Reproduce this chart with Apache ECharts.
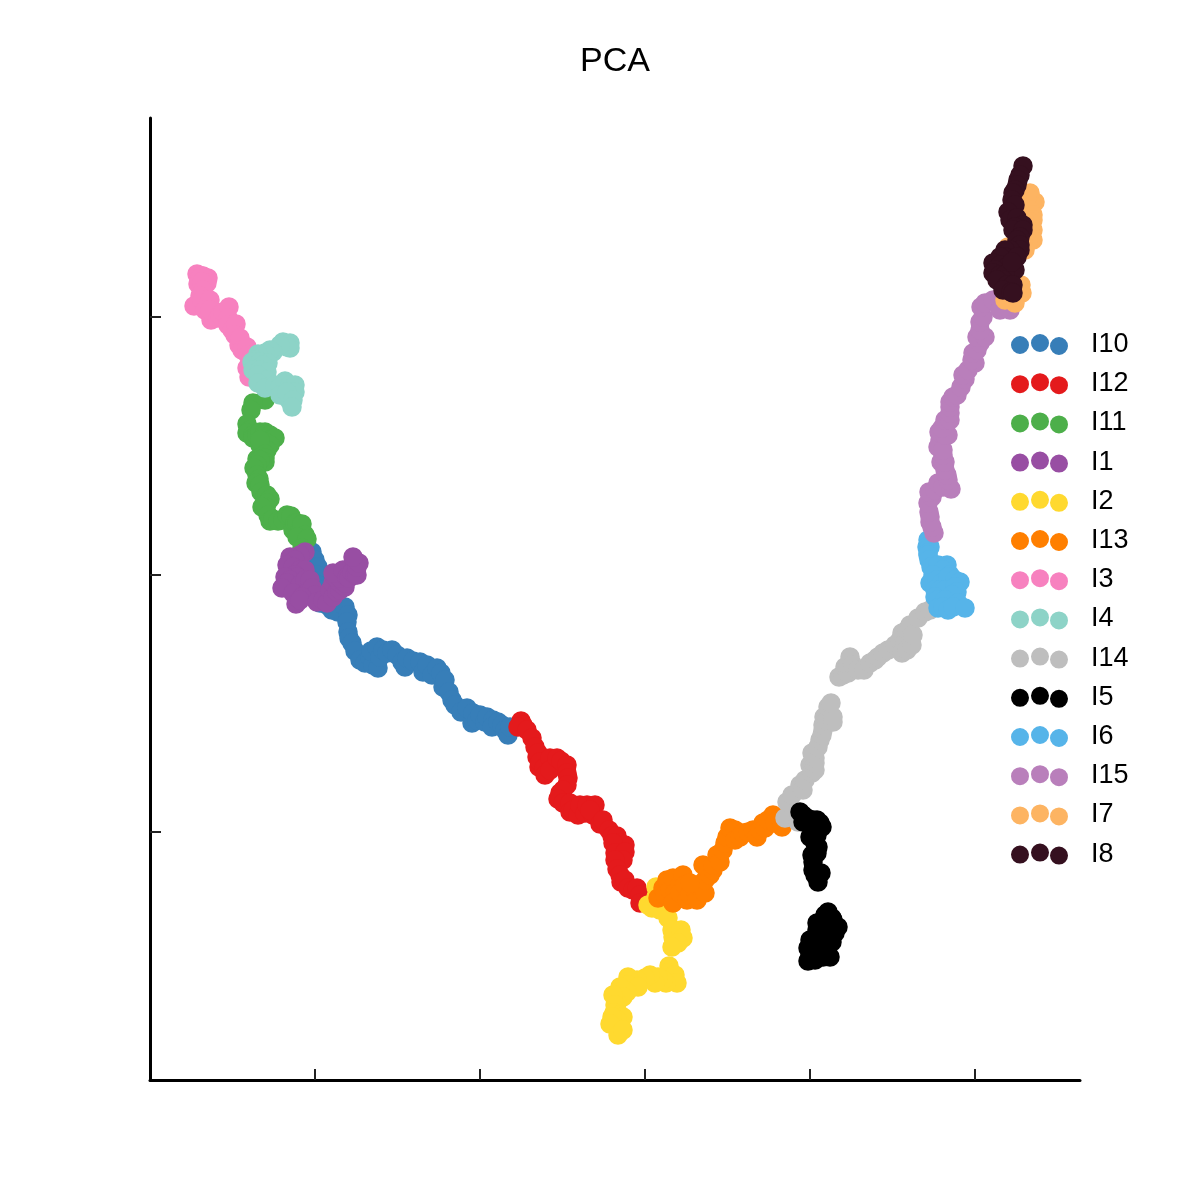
<!DOCTYPE html>
<html>
<head>
<meta charset="utf-8">
<style>html,body{margin:0;padding:0;background:#fff}#c{width:1200px;height:1200px}</style>
<script src="https://cdn.jsdelivr.net/npm/echarts@6/dist/echarts.min.js"></script>
</head>
<body>
<div id="c"></div>
<script>
const I10 = [[-333,23],[-330,15],[-327,8],[-328,0],[-327,-10],[-325,-15],[-325,-28],[-318,-30],[-313,-35],[-307,-37],[-300,-32],[-297,-40],[-298,-47],[-297,-57],[-296,-63],[-293,-68],[-290,-76],[-285,-85],[-280,-88],[-275,-82],[-272,-90],[-274,-76],[-268,-72],[-267,-93],[-265,-82],[-262,-75],[-258,-78],[-253,-75],[-248,-80],[-243,-87],[-240,-92],[-238,-83],[-232,-86],[-225,-87],[-222,-97],[-218,-90],[-213,-100],[-208,-93],[-204,-98],[-202,-112],[-200,-105],[-196,-117],[-193,-125],[-190,-130],[-184,-137],[-178,-133],[-173,-148],[-172,-138],[-168,-145],[-165,-140],[-160,-147],[-158,-142],[-152,-145],[-153,-152],[-147,-147],[-143,-150],[-140,-155],[-137,-160],[-135,-152]];
const I12 = [[-124,-146],[-122,-150],[-127,-152],[-118,-155],[-113,-163],[-110,-172],[-108,-182],[-107,-178],[-106,-192],[-105,-187],[-101,-193],[-100,-200],[-95,-183],[-95,-195],[-88,-183],[-84,-186],[-78,-190],[-78,-198],[-77,-203],[-78,-210],[-85,-218],[-82,-215],[-87,-224],[-82,-228],[-75,-228],[-75,-237],[-72,-235],[-67,-240],[-65,-230],[-60,-238],[-58,-230],[-52,-240],[-50,-230],[-55,-235],[-45,-249],[-42,-245],[-36,-255],[-33,-261],[-28,-261],[-28,-270],[-25,-268],[-20,-270],[-32,-268],[-30,-278],[-20,-277],[-22,-285],[-30,-285],[-28,-294],[-25,-300],[-24,-307],[-20,-305],[-17,-313],[-12,-315],[-8,-313],[-5,-320],[-5,-328]];
const I11 = [[-380,175],[-392,172],[-394,165],[-398,151],[-395,145],[-398,142],[-392,140],[-392,137],[-388,140],[-385,143],[-380,143],[-380,140],[-375,140],[-372,137],[-370,137],[-377,130],[-380,133],[-375,130],[-385,130],[-378,125],[-385,135],[-380,121],[-384,118],[-380,117],[-388,116],[-380,113],[-385,115],[-388,110],[-391,107],[-388,100],[-386,96],[-389,92],[-385,90],[-384,83],[-380,78],[-378,80],[-375,76],[-378,72],[-379,68],[-383,68],[-377,60],[-375,54],[-372,56],[-367,54],[-362,55],[-358,60],[-354,59],[-352,45],[-350,52],[-348,52],[-345,45],[-343,51],[-340,40],[-348,38],[-338,36],[-343,27]];
const I1 = [[-340,23],[-345,20],[-355,18],[-350,15],[-358,10],[-352,8],[-345,5],[-340,5],[-350,0],[-348,-2],[-360,-2],[-355,-5],[-358,-8],[-345,-10],[-340,-5],[-335,-5],[-363,-13],[-352,-18],[-338,-18],[-333,-13],[-330,-20],[-349,-29],[-343,-22],[-345,-25],[-328,-27],[-322,-25],[-318,-28],[-315,-15],[-312,-22],[-312,-8],[-308,-17],[-305,-15],[-305,-8],[-300,-12],[-300,-8],[-310,-2],[-305,-3],[-312,2],[-302,5],[-298,-2],[-296,-3],[-293,3],[-290,0],[-288,0],[-288,8],[-286,12],[-292,18]];
const I2 = [[11,-312],[11,-322],[3,-330],[7,-333],[15,-335],[20,-330],[23,-343],[27,-355],[30,-363],[28,-362],[36,-355],[38,-363],[33,-368],[27,-372],[24,-391],[23,-398],[26,-402],[30,-400],[32,-408],[21,-408],[18,-405],[13,-402],[10,-408],[5,-400],[0,-403],[-8,-405],[-12,-410],[-17,-402],[-17,-410],[-7,-412],[-18,-417],[-25,-412],[-22,-422],[-28,-428],[-32,-420],[-30,-430],[-31,-438],[-25,-440],[-22,-442],[-28,-445],[-33,-442],[-35,-449],[-27,-460],[-22,-455]];
const I13 = [[13,-323],[18,-313],[20,-320],[22,-305],[25,-315],[28,-303],[30,-325],[30,-318],[35,-310],[38,-300],[28,-328],[35,-318],[40,-310],[42,-325],[45,-320],[50,-315],[52,-325],[52,-310],[55,-310],[60,-318],[60,-305],[45,-308],[62,-293],[65,-300],[58,-290],[68,-295],[68,-290],[72,-280],[75,-287],[78,-275],[80,-268],[82,-262],[85,-253],[90,-255],[90,-265],[95,-262],[98,-258],[103,-257],[108,-255],[112,-262],[115,-255],[118,-248],[120,-253],[123,-245],[128,-240],[130,-248],[135,-243],[137,-252]];
const I3 = [[-448,301],[-443,299],[-437,297],[-442,299],[-446,296],[-440,296],[-447,291],[-442,292],[-438,292],[-443,293],[-442,285],[-445,279],[-451,269],[-443,275],[-435,275],[-440,265],[-434,255],[-430,260],[-435,265],[-427,257],[-425,260],[-422,263],[-416,268],[-417,257],[-417,250],[-413,245],[-409,251],[-410,240],[-406,230],[-405,237],[-403,225],[-398,228],[-397,220],[-395,214],[-398,207],[-396,198]];
const I4 = [[-362,233],[-355,232],[-355,227],[-358,228],[-365,230],[-372,223],[-375,225],[-380,222],[-387,221],[-390,215],[-393,213],[-385,213],[-377,212],[-382,210],[-392,205],[-385,205],[-378,203],[-387,200],[-378,195],[-387,192],[-380,187],[-370,190],[-365,188],[-360,194],[-355,190],[-350,190],[-365,180],[-356,175],[-350,183],[-358,183],[-352,175],[-353,168]];
const I14 = [[140,-243],[142,-227],[153,-247],[147,-220],[155,-210],[158,-215],[160,-205],[165,-190],[167,-198],[170,-195],[170,-188],[170,-183],[167,-178],[173,-172],[175,-165],[177,-160],[178,-155],[178,-150],[179,-142],[182,-146],[183,-132],[188,-147],[188,-142],[186,-128],[194,-102],[198,-100],[200,-92],[203,-98],[203,-90],[205,-82],[208,-90],[213,-95],[219,-95],[225,-88],[230,-85],[233,-82],[238,-78],[243,-75],[250,-70],[255,-65],[257,-58],[257,-78],[260,-68],[262,-75],[262,-55],[265,-50],[267,-70],[268,-60],[273,-43],[280,-37],[285,-35]];
const I5 = [[155,-237],[158,-240],[158,-247],[162,-243],[163,-248],[168,-245],[168,-255],[172,-245],[175,-248],[177,-252],[172,-260],[165,-262],[170,-268],[173,-272],[172,-278],[167,-280],[168,-287],[168,-295],[170,-300],[176,-298],[173,-307],[183,-337],[180,-340],[187,-343],[188,-345],[178,-345],[193,-352],[172,-348],[172,-355],[182,-357],[185,-355],[190,-358],[178,-360],[175,-367],[170,-367],[165,-365],[187,-367],[180,-372],[170,-375],[163,-373],[178,-382],[185,-382],[175,-380],[170,-385],[165,-380],[163,-386]];
const I6 = [[283,35],[282,28],[285,28],[283,22],[283,20],[284,15],[286,8],[293,10],[302,10],[298,5],[288,0],[285,-8],[292,-5],[297,-8],[305,0],[303,-2],[310,-5],[315,-7],[290,-15],[295,-15],[300,-15],[310,-12],[312,-17],[307,-20],[290,-22],[293,-25],[300,-25],[313,-28],[293,-33],[298,-32],[303,-35],[308,-32],[320,-33]];
const I15 = [[289,42],[287,48],[285,58],[285,53],[284,63],[283,72],[287,78],[284,83],[290,85],[293,92],[298,88],[306,86],[303,95],[302,100],[300,105],[296,113],[300,113],[298,120],[295,135],[293,128],[298,125],[303,140],[294,143],[300,140],[297,147],[300,155],[305,155],[305,162],[305,168],[305,173],[308,178],[312,180],[316,188],[320,196],[318,200],[323,205],[330,212],[327,215],[328,222],[332,225],[335,232],[332,238],[340,238],[335,245],[335,253],[338,258],[336,268],[340,272],[348,275],[355,275],[360,268],[355,265],[365,265]];
const I7 = [[390,373],[387,370],[385,382],[382,378],[385,365],[388,360],[388,355],[388,345],[385,353],[385,345],[388,335],[383,333],[378,335],[380,325],[375,325],[363,328],[377,282],[376,290],[372,283],[370,272],[365,277],[360,275]];
const I8 = [[378,409],[375,400],[373,395],[372,390],[370,385],[368,382],[367,375],[370,370],[363,363],[365,355],[372,357],[378,350],[370,348],[368,345],[378,345],[375,338],[372,335],[375,330],[375,325],[370,320],[365,325],[360,325],[360,318],[355,318],[372,318],[350,310],[348,312],[355,310],[362,308],[370,305],[350,305],[348,302],[355,300],[360,300],[358,295],[352,295],[362,290],[368,290],[358,285],[366,283],[367,313],[368,282]];
const seriesNames = ['I10','I12','I11','I1','I2','I13','I3','I4','I14','I5','I6','I15','I7','I8'];
const seriesValues = [I10,I12,I11,I1,I2,I13,I3,I4,I14,I5,I6,I15,I7,I8];
const seriesColors = ['#377EB8','#E41A1C','#4DAF4A','#984EA3','#FFD92F','#FF7F00','#F781BF','#8DD3C7','#BEBEBE','#000000','#56B4E9','#B97FBB','#FDB462','#35101F'];
const xTicks = [-330,-165,0,165,330];
const yTicks = [-257,0,258];
const icon = 'path://M18 11.5A9 9 0 1 1 0 11.5A9 9 0 1 1 18 11.5ZM38 9.5A9 9 0 1 1 20 9.5A9 9 0 1 1 38 9.5ZM57 12.5A9 9 0 1 1 39 12.5A9 9 0 1 1 57 12.5Z';
const chart = echarts.init(document.getElementById('c'), null, {renderer:'canvas'});
const axisBase = {
  type:'value', scale:false, splitLine:{show:false}, axisLabel:{show:false},
  axisLine:{show:true,onZero:false,lineStyle:{color:'#000',width:3}}
};
chart.setOption({
  animation:false,
  backgroundColor:'#fff',
  title:{text:'PCA',left:610,top:40,textAlign:'center',textStyle:{fontFamily:'Liberation Sans',fontSize:34,fontWeight:'normal',color:'#000'}},
  grid:{left:150,right:120,top:118,bottom:120,containLabel:false},
  xAxis:Object.assign({},axisBase,{min:-495,max:435,axisTick:{show:true,inside:true,length:11,customValues:xTicks,lineStyle:{color:'#222',width:2}}}),
  yAxis:Object.assign({},axisBase,{min:-505,max:457,axisTick:{show:true,inside:true,length:11,customValues:yTicks,lineStyle:{color:'#222',width:2}}}),
  legend:{
    orient:'vertical',left:1006,top:326,icon:icon,itemWidth:57,itemHeight:22,itemGap:12.2,
    data:seriesNames,selectedMode:false,itemStyle:{borderWidth:0},
    textStyle:{fontFamily:'Liberation Sans',fontSize:27,color:'#000',padding:[0,0,0,18]}
  },
  series:seriesNames.map((n,i)=>({
    name:n,type:'scatter',data:seriesValues[i],symbolSize:19.5,z:2+i,silent:true,
    itemStyle:{color:seriesColors[i],opacity:1,borderWidth:0}
  }))
});
</script>
</body>
</html>
